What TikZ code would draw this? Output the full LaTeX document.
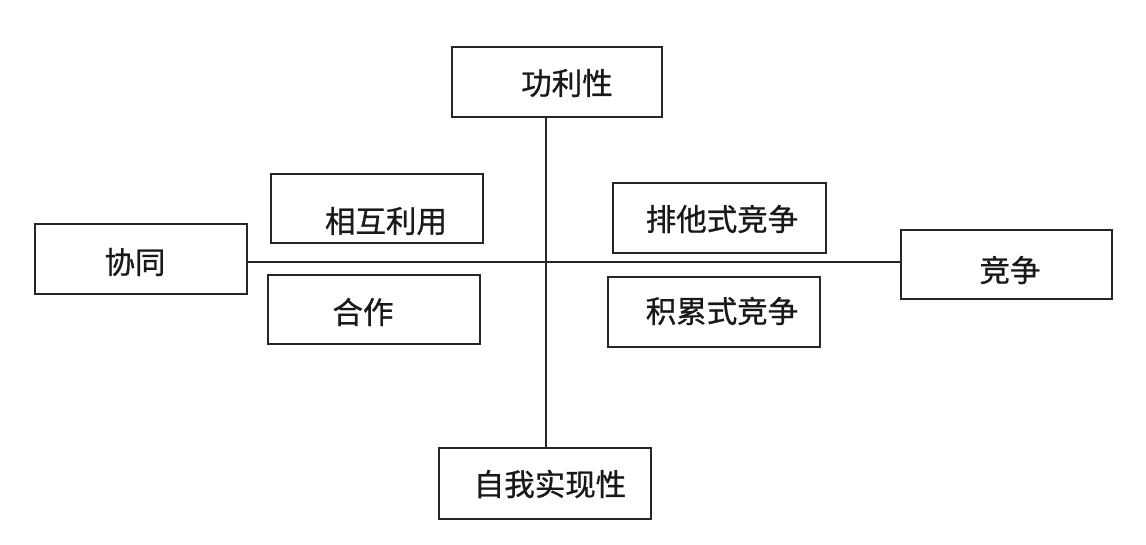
\documentclass[tikz,border=0pt]{standalone}
\usepackage{fontspec}
\newfontfamily\cjk[FakeBold=0.8]{Noto Sans CJK SC}
\begin{document}
\begin{tikzpicture}[x=1pt,y=-1pt,
  box/.style={draw=black!85,line width=2pt,minimum width=212pt,minimum height=70pt,inner sep=0pt},
  txt/.style={font=\cjk\fontsize{30.5}{30.5}\selectfont,inner sep=0pt,text=black!90},
  conn/.style={draw=black!85,line width=1.1pt}]
\useasboundingbox (0,0) rectangle (1146,545);
\node[box,minimum width=210pt] (gl) at (557,82) {};
\node[txt] (glt) at (567,83) {功利性};
\node[box,minimum height=69pt] (xh) at (377,208.5) {};
\node[txt] (xht) at (386,221) {相互利用};
\node[box,minimum width=213pt] (pt) at (719.5,218) {};
\node[txt] (ptt) at (722,219) {排他式竞争};
\node[box] (xt) at (141,259) {};
\node[txt] (xtt) at (135,262) {协同};
\node[box,minimum width=211pt,minimum height=69pt] (jz) at (1006.5,264.5) {};
\node[txt] (jzt) at (1010,270) {竞争};
\node[box,minimum height=69pt] (hz) at (374,309.5) {};
\node[txt] (hzt) at (363,312) {合作};
\node[box] (jl) at (714,312) {};
\node[txt] (jlt) at (722,311) {积累式竞争};
\node[box,minimum height=71pt] (zw) at (545,483.5) {};
\node[txt] (zwt) at (550,484) {自我实现性};
\coordinate (c) at (546,262);
\draw[conn] (c |- gl.south) -- (c |- zw.north);
\draw[conn] (xt.east |- c) -- (jz.west |- c);
\end{tikzpicture}
\end{document}
